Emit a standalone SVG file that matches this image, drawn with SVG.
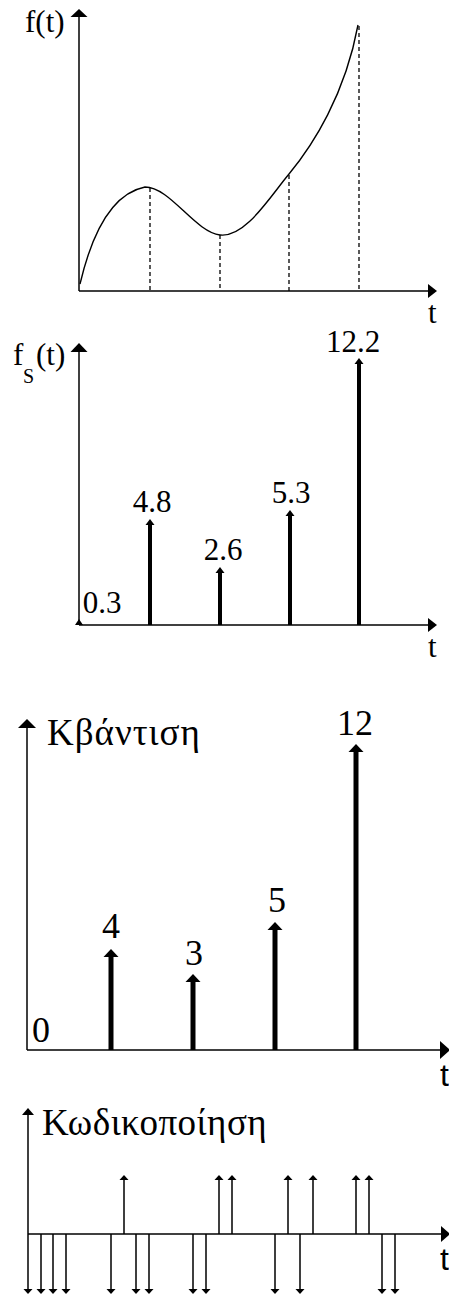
<svg xmlns="http://www.w3.org/2000/svg" width="449" height="1296" viewBox="0 0 449 1296">
<rect width="449" height="1296" fill="#fff"/>
<text x="25" y="32" font-size="31" font-family="Liberation Serif">f(t)</text>
<text x="428" y="323" font-size="31" font-family="Liberation Serif">t</text>
<text x="13" y="365" font-size="31" font-family="Liberation Serif">f</text>
<text x="23" y="383" font-size="20" font-family="Liberation Serif">S</text>
<text x="36" y="365" font-size="31" font-family="Liberation Serif">(t)</text>
<text x="428" y="657" font-size="31" font-family="Liberation Serif">t</text>
<text x="102" y="613" font-size="31" font-family="Liberation Serif" text-anchor="middle">0.3</text>
<text x="152" y="512" font-size="31" font-family="Liberation Serif" text-anchor="middle">4.8</text>
<text x="223" y="560" font-size="31" font-family="Liberation Serif" text-anchor="middle">2.6</text>
<text x="291" y="503" font-size="31" font-family="Liberation Serif" text-anchor="middle">5.3</text>
<text x="353" y="352" font-size="31" font-family="Liberation Serif" text-anchor="middle">12.2</text>
<text x="47" y="745" font-size="37" font-family="Liberation Serif" letter-spacing="1">Κβάντιση</text>
<text x="440" y="1086" font-size="32" font-family="Liberation Sans">t</text>
<text x="32" y="1042" font-size="36" font-family="Liberation Serif">0</text>
<text x="111" y="938" font-size="36" font-family="Liberation Serif" text-anchor="middle">4</text>
<text x="194" y="965" font-size="36" font-family="Liberation Serif" text-anchor="middle">3</text>
<text x="277" y="912" font-size="36" font-family="Liberation Serif" text-anchor="middle">5</text>
<text x="355" y="735" font-size="36" font-family="Liberation Serif" text-anchor="middle">12</text>
<text x="42" y="1135" font-size="37" font-family="Liberation Serif" letter-spacing="0.5">Κωδικοποίηση</text>
<text x="440" y="1270" font-size="32" font-family="Liberation Sans">t</text>

<g id="panel1">
  <g id="axes1" stroke="#000" stroke-width="1.5">
    <line x1="79" y1="291" x2="79" y2="15"/>
    <line x1="79" y1="291" x2="430" y2="291"/>
  </g>
  <g id="heads1" fill="#000">
    <polygon points="79,9 70.5,17 87.5,17"/>
    <polygon points="437,291 428,284 428,298"/>
  </g>
  <g id="curve1">
    <path fill="none" stroke="#000" stroke-width="1.4" d="M80,284 C88,250 105,195 145,187 C170,187 195,232 220,235 C245,238 269,198 289,174 C313,145 345,95 358,25"/>
  </g>
  <g id="dashes1" stroke="#000" stroke-width="1.3" stroke-dasharray="4,3">
    <line x1="150" y1="188" x2="150" y2="291"/>
    <line x1="220" y1="235" x2="220" y2="291"/>
    <line x1="289" y1="175" x2="289" y2="291"/>
    <line x1="359" y1="26" x2="359" y2="291"/>
  </g>
</g>

<g id="panel2">
  <g id="axes2" stroke="#000" stroke-width="1.5">
    <line x1="79" y1="625" x2="79" y2="349"/>
    <line x1="79" y1="625" x2="430" y2="625"/>
  </g>
  <g id="stems2" stroke="#000" stroke-width="4">
    <line x1="150" y1="625" x2="150" y2="524"/>
    <line x1="220" y1="625" x2="220" y2="572"/>
    <line x1="290" y1="625" x2="290" y2="515"/>
    <line x1="359" y1="625" x2="359" y2="363"/>
  </g>
  <g id="heads2" fill="#000">
    <polygon points="79,343 70.5,352 87.5,352"/>
    <polygon points="437,625 428,618 428,632"/>
    <polygon points="79,619 75,625 83,625"/>
    <polygon points="150,519 145.5,525 154.5,525"/>
    <polygon points="220,567 215.5,573 224.5,573"/>
    <polygon points="290,510 285.5,516 294.5,516"/>
    <polygon points="359,358 354.5,364 363.5,364"/>
  </g>
</g>

<g id="panel3">
  <g id="axes3" stroke="#000" stroke-width="1.5">
    <line x1="27" y1="1050" x2="27" y2="725"/>
    <line x1="27" y1="1050" x2="442" y2="1050"/>
  </g>
  <g id="stems3" stroke="#000" stroke-width="5">
    <line x1="111" y1="1050" x2="111" y2="955"/>
    <line x1="193" y1="1050" x2="193" y2="980"/>
    <line x1="275" y1="1050" x2="275" y2="928"/>
    <line x1="356" y1="1050" x2="356" y2="750"/>
  </g>
  <g id="heads3" fill="#000">
    <polygon points="27,719 18,728 36,728"/>
    <polygon points="450,1050 440,1041 440,1059"/>
    <polygon points="111,949 103.5,957 118.5,957"/>
    <polygon points="193,974 185.5,982 200.5,982"/>
    <polygon points="275,922 267.5,930 282.5,930"/>
    <polygon points="356,744 348.5,752 363.5,752"/>
  </g>
</g>

<g id="panel4">
  <g id="axes4" stroke="#000" stroke-width="1.5">
    <line x1="28" y1="1290" x2="28" y2="1113"/>
    <line x1="28" y1="1234" x2="442" y2="1234"/>
  </g>
  <g id="bitlines" stroke="#000" stroke-width="1.5" fill="none">
    <path d="M41,1234V1290M53,1234V1290M66,1234V1290M111,1234V1290M136,1234V1290M149,1234V1290M193,1234V1290M206,1234V1290M275,1234V1290M300,1234V1290M382,1234V1290M395,1234V1290"/>
    <path d="M124,1234V1179M219,1234V1179M232,1234V1179M288,1234V1179M313,1234V1179M356,1234V1179M369,1234V1179"/>
  </g>
  <g id="heads4" fill="#000">
    <polygon points="28,1108 22,1115 34,1115"/>
    <polygon points="450,1234 441,1226 441,1242"/>
    <polygon points="28,1294 23.5,1289 32.5,1289"/>
    <polygon points="41,1294 36.5,1289 45.5,1289"/>
    <polygon points="53,1294 48.5,1289 57.5,1289"/>
    <polygon points="66,1294 61.5,1289 70.5,1289"/>
    <polygon points="111,1294 106.5,1289 115.5,1289"/>
    <polygon points="136,1294 131.5,1289 140.5,1289"/>
    <polygon points="149,1294 144.5,1289 153.5,1289"/>
    <polygon points="193,1294 188.5,1289 197.5,1289"/>
    <polygon points="206,1294 201.5,1289 210.5,1289"/>
    <polygon points="275,1294 270.5,1289 279.5,1289"/>
    <polygon points="300,1294 295.5,1289 304.5,1289"/>
    <polygon points="382,1294 377.5,1289 386.5,1289"/>
    <polygon points="395,1294 390.5,1289 399.5,1289"/>
    <polygon points="124,1175 119.5,1180 128.5,1180"/>
    <polygon points="219,1175 214.5,1180 223.5,1180"/>
    <polygon points="232,1175 227.5,1180 236.5,1180"/>
    <polygon points="288,1175 283.5,1180 292.5,1180"/>
    <polygon points="313,1175 308.5,1180 317.5,1180"/>
    <polygon points="356,1175 351.5,1180 360.5,1180"/>
    <polygon points="369,1175 364.5,1180 373.5,1180"/>
  </g>
</g>
</svg>
